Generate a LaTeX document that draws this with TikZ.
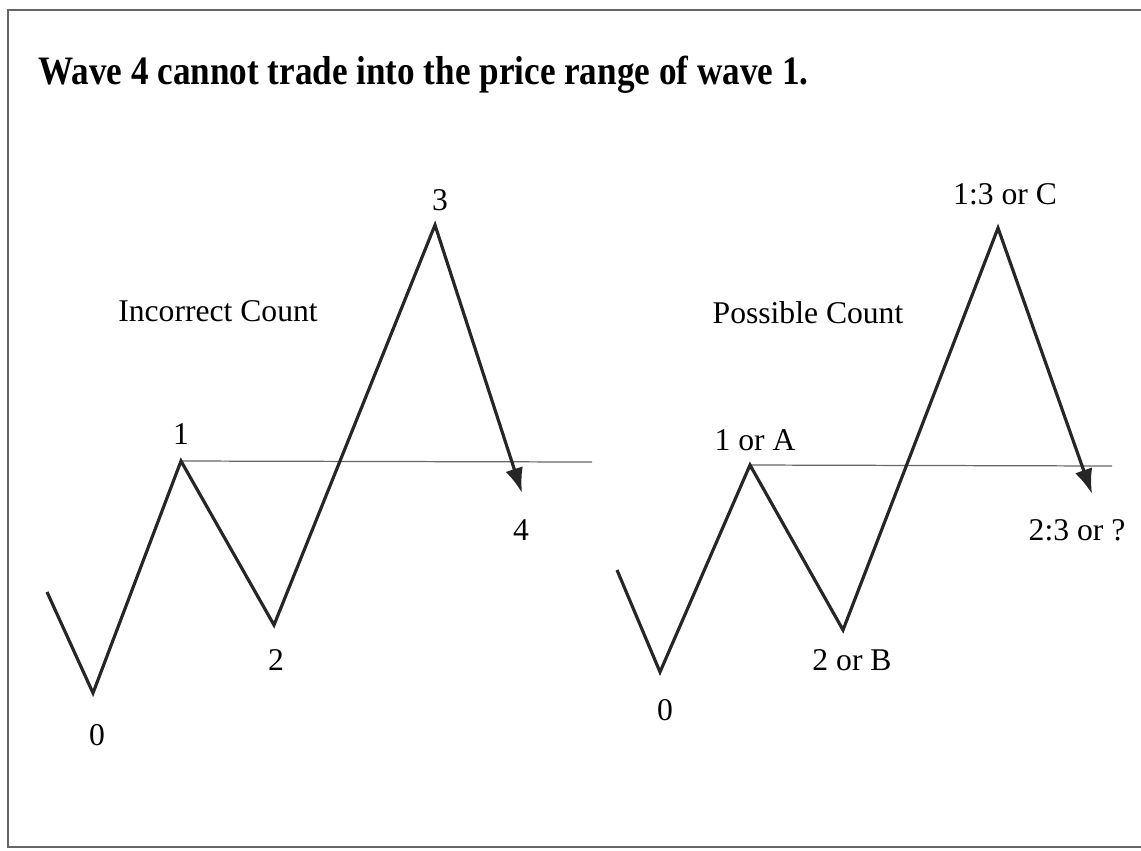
\documentclass[tikz,border=0pt]{standalone}
\usepackage{fontspec}
\setmainfont{Liberation Serif}
\usetikzlibrary{arrows.meta}
\tikzset{
  onda/.style={line width=1.8pt, color=black!85, line join=miter},
  nivel/.style={line width=0.7pt, color=black!60},
  rotulo/.style={inner sep=1pt, font=\fontsize{18}{20}\selectfont}
}
\begin{document}
\begin{tikzpicture}[x=0.02cm, y=-0.02cm, >={Latex[length=0.5cm,width=0.36cm]}]
  \useasboundingbox (0,0) rectangle (1141,850);
  % marco
  \draw[black!60, line width=1.4pt] (1141,10) -- (8,10) -- (8,847) -- (1141,847);
  \node[anchor=west, inner sep=0pt, yscale=1.15, font=\bfseries\fontsize{20}{22}\selectfont] (titulo) at (38,75)
    {Wave 4 cannot trade into the price range of wave 1.};
  % conteo incorrecto
  \begin{scope}
    \coordinate (ia) at (47,592);
    \coordinate (i0) at (93,693);
    \coordinate (i1) at (181,461);
    \coordinate (i2) at (274,625);
    \coordinate (i3) at (435,225);
    \coordinate (i4) at (522,493);
    \coordinate (ifin) at (592,462);
    \draw[nivel] (i1) -- (ifin);
    \draw[onda, ->] (ia) -- (i0) -- (i1) -- (i2) -- (i3) -- (i4);
    \node[rotulo] (l0) at (97,735) {0};
    \node[rotulo] (l1) at (181,434) {1};
    \node[rotulo] (l2) at (276,660) {2};
    \node[rotulo] (l3) at (440,200) {3};
    \node[rotulo] (l4) at (521,530) {4};
    \node[rotulo] (incorrecto) at (218,311) {Incorrect Count};
  \end{scope}
  % conteo posible
  \begin{scope}
    \coordinate (pa) at (617,570);
    \coordinate (p0) at (660,672);
    \coordinate (p1) at (750,465);
    \coordinate (p2) at (843,630);
    \coordinate (p3) at (998,228);
    \coordinate (p4) at (1092,494);
    \coordinate (pfin) at (1112,466);
    \draw[nivel] (p1) -- (pfin);
    \draw[onda, ->] (pa) -- (p0) -- (p1) -- (p2) -- (p3) -- (p4);
    \node[rotulo] (m0) at (665,710) {0};
    \node[rotulo] (m1) at (755,440) {1 or A};
    \node[rotulo] (m2) at (852,660) {2 or B};
    \node[rotulo] (m3) at (1005,194) {1:3 or C};
    \node[rotulo] (m4) at (1077,530) {2:3 or ?};
    \node[rotulo] (posible) at (808,313) {Possible Count};
  \end{scope}
\end{tikzpicture}
\end{document}
